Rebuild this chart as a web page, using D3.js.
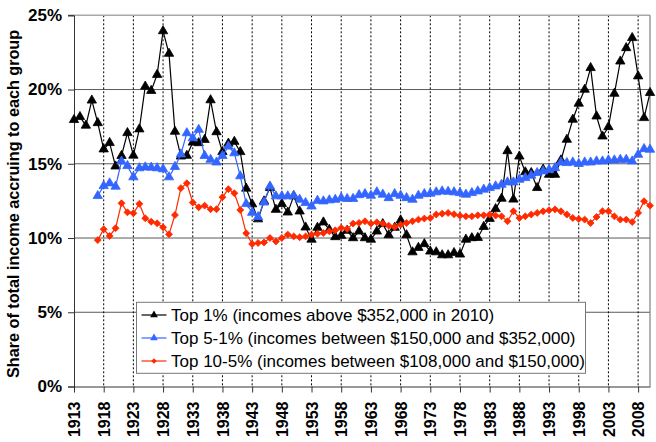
<!DOCTYPE html>
<html>
<head>
<meta charset="utf-8">
<script src="https://cdn.jsdelivr.net/npm/d3@7"></script>
<style>
  body { margin: 0; background: #fff; }
  svg { display: block; font-family: "Liberation Sans", Arial, sans-serif; }
</style>
</head>
<body>
<svg id="chart" width="656" height="442"></svg>
<script>
// ---------- data ----------
const firstYear = 1913;
const splitStart = 1917; // the two lower groups start here

const top1 = [
  17.96, 18.16, 17.58, 19.27, 17.75, 15.98, 16.41, 14.83, 15.54, 17.08,
  15.56, 17.33, 20.21, 19.92, 21.00, 23.94, 22.42, 17.17, 15.50, 15.55,
  16.44, 16.40, 16.62, 19.29, 17.14, 15.80, 16.37, 16.49, 15.80, 13.34,
  12.28, 11.27, 12.48, 13.38, 11.91, 12.30, 11.73, 12.82, 11.80, 10.72,
  9.90, 10.70, 11.06, 10.56, 10.07, 10.16, 10.50, 10.00, 10.45, 10.00,
  9.90, 10.45, 10.95, 10.20, 10.70, 11.20, 10.20, 9.05, 9.35, 9.60,
  9.10, 9.05, 8.85, 8.85, 9.00, 8.90, 9.90, 10.00, 10.02, 10.76,
  11.30, 11.96, 12.66, 15.86, 12.60, 15.50, 14.44, 14.39, 13.38, 14.62,
  14.27, 14.27, 15.24, 16.63, 17.98, 19.06, 20.00, 21.46, 18.20, 16.85,
  17.48, 19.73, 21.90, 22.80, 23.48, 20.90, 18.09, 19.78
];

const top5to1 = [
  12.84, 13.51, 13.69, 13.47, 15.16, 14.86, 14.10, 14.71, 14.77, 14.75,
  14.71, 14.64, 14.10, 14.80, 15.64, 17.07, 16.73, 17.30, 15.54, 15.28,
  15.10, 15.54, 16.17, 15.72, 14.17, 12.30, 11.71, 11.42, 12.40, 13.48,
  12.82, 12.82, 12.82, 12.86, 12.59, 12.37, 12.14, 12.52, 12.48, 12.55,
  12.59, 12.70, 12.64, 12.65, 12.90, 12.97, 12.86, 13.09, 12.93, 12.70,
  12.97, 12.86, 12.70, 12.59, 12.86, 12.97, 13.00, 13.09, 13.15, 13.13,
  13.09, 13.04, 12.93, 13.04, 13.15, 13.27, 13.38, 13.49, 13.60, 13.76,
  13.76, 13.94, 14.05, 14.21, 14.39, 14.50, 14.60, 14.72, 15.10, 15.06,
  15.10, 15.00, 15.10, 15.10, 15.17, 15.17, 15.24, 15.24, 15.28, 15.28,
  15.17, 15.62, 16.00, 15.96
];

const top10to5 = [
  9.86, 10.59, 10.14, 10.66, 12.34, 11.73, 11.67, 12.30, 11.33, 11.10,
  10.99, 10.72, 10.25, 11.55, 13.36, 13.69, 12.39, 12.07, 12.18, 11.94,
  11.94, 12.75, 13.29, 13.02, 11.89, 10.32, 9.60, 9.67, 9.70, 10.00,
  9.77, 10.00, 10.23, 10.11, 10.05, 10.11, 10.23, 10.29, 10.34, 10.45,
  10.52, 10.68, 10.61, 10.97, 11.02, 11.13, 10.97, 11.06, 10.97, 10.83,
  10.74, 10.90, 11.01, 11.13, 11.24, 11.31, 11.35, 11.58, 11.64, 11.69,
  11.60, 11.50, 11.46, 11.46, 11.53, 11.53, 11.58, 11.51, 11.46, 11.13,
  11.80, 11.35, 11.46, 11.58, 11.69, 11.80, 11.87, 11.93, 11.80, 11.58,
  11.35, 11.28, 11.24, 11.01, 11.42, 11.80, 11.80, 11.46, 11.24, 11.24,
  11.08, 11.69, 12.48, 12.18
];

const seriesNames = [
  "Top 1% (incomes above $352,000 in 2010)",
  "Top 5-1% (incomes between $150,000 and $352,000)",
  "Top 10-5% (incomes between $108,000 and $150,000)"
];
const seriesColors = ["#000000", "#3366ff", "#ff2a00"];
const yTicks = [0, 5, 10, 15, 20, 25];
const xTicks = d3.range(1913, 2009, 5);

// ---------- set up ----------
const svg = d3.select("#chart");
const font = "'Liberation Sans', Arial, sans-serif";
const margin = { left: 74, right: 6, top: 15.3, bottom: 55.5 };
const W = 656, H = 442;

const x = d3.scaleLinear()
  .domain([1913, 2010])
  .range([margin.left, W - margin.right]);
const y = d3.scaleLinear()
  .domain([0, 25])
  .range([H - margin.bottom, margin.top]);

const toPoints = (vals, start) => vals.map((v, i) => ({ year: start + i, v: v }));
const series = [
  { name: seriesNames[0], color: seriesColors[0], marker: "tri", pts: toPoints(top1, firstYear) },
  { name: seriesNames[1], color: seriesColors[1], marker: "tri", pts: toPoints(top5to1, splitStart) },
  { name: seriesNames[2], color: seriesColors[2], marker: "dia", pts: toPoints(top10to5, splitStart) }
];

// ---------- grid ----------
// horizontal gridlines
svg.append("g").selectAll("line")
  .data(yTicks.filter(d => d > 0 && d < 25))
  .join("line")
  .attr("x1", x(1913)).attr("x2", x(2010))
  .attr("y1", d => y(d)).attr("y2", d => y(d))
  .attr("stroke", "#5a5a5a").attr("stroke-width", 1);

// vertical dotted lines
svg.append("g").selectAll("line")
  .data(xTicks.filter(d => d > 1913))
  .join("line")
  .attr("x1", d => x(d)).attr("x2", d => x(d))
  .attr("y1", y(25)).attr("y2", y(0))
  .attr("stroke", "#000").attr("stroke-width", 1)
  .attr("stroke-dasharray", "2,2");

// top and right frame
svg.append("line")
  .attr("x1", x(1913) - 6).attr("x2", x(2010))
  .attr("y1", y(25)).attr("y2", y(25))
  .attr("stroke", "#a8a8a8").attr("stroke-width", 1.6);
svg.append("line")
  .attr("x1", x(2010)).attr("x2", x(2010))
  .attr("y1", y(25)).attr("y2", y(0))
  .attr("stroke", "#808080").attr("stroke-width", 1.2);

// ---------- axes ----------
const yAxis = svg.append("g")
  .attr("transform", `translate(${x(1913)},0)`)
  .call(d3.axisLeft(y).tickValues(yTicks).tickFormat(d => d + "%").tickSize(6).tickPadding(6));
yAxis.select(".domain").attr("stroke", "#333");
yAxis.selectAll(".tick line").attr("stroke", "#333");
yAxis.selectAll("text")
  .attr("font-size", 17).attr("font-weight", "bold").attr("fill", "#000")
  .attr("font-family", font);

const xAxis = svg.append("g")
  .attr("transform", `translate(0,${y(0)})`)
  .call(d3.axisBottom(x).tickValues(xTicks).tickFormat(d3.format("d")).tickSize(6).tickSizeOuter(0));
xAxis.select(".domain").attr("stroke", "#333");
xAxis.selectAll(".tick line").attr("stroke", "#333");
xAxis.selectAll("text")
  .attr("font-size", 16).attr("font-weight", "bold").attr("fill", "#000")
  .attr("font-family", font)
  .attr("transform", "rotate(-90)")
  .attr("text-anchor", "end")
  .attr("x", -15).attr("y", 0).attr("dy", "0.35em");

// y title
svg.append("text")
  .attr("transform", `translate(13,${(y(0) + y(25)) / 2 + 3}) rotate(-90)`)
  .attr("text-anchor", "middle")
  .attr("dy", "0.35em")
  .attr("font-size", 16.2).attr("font-weight", "bold")
  .attr("font-family", font)
  .text("Share of total income accruing to each group");

// ---------- series ----------
const line = d3.line().x(d => x(d.year)).y(d => y(d.v));
const triPath = d3.symbol(d3.symbolTriangle, 38)();
const diaPath = d3.symbol(d3.symbolSquare, 24)();

series.forEach(s => {
  const g = svg.append("g");
  g.append("path")
    .datum(s.pts)
    .attr("d", line)
    .attr("fill", "none")
    .attr("stroke", s.color)
    .attr("stroke-width", 1.2);
  g.selectAll("path.m")
    .data(s.pts)
    .join("path")
    .attr("class", "m")
    .attr("d", s.marker === "tri" ? triPath : diaPath)
    .attr("transform", d => `translate(${x(d.year)},${y(d.v)})` + (s.marker === "dia" ? " rotate(45)" : ""))
    .attr("fill", s.color)
    .attr("stroke", s.color)
    .attr("stroke-width", 0.8);
});

// ---------- legend ----------
const legend = svg.append("g").attr("transform", "translate(136.5,302.3)");
legend.append("rect")
  .attr("width", 449).attr("height", 71)
  .attr("fill", "#fff").attr("stroke", "#777").attr("stroke-width", 1);
series.forEach((s, i) => {
  const row = legend.append("g").attr("transform", `translate(0,${12.7 + i * 23})`);
  row.append("line")
    .attr("x1", 5).attr("x2", 30).attr("y1", 0).attr("y2", 0)
    .attr("stroke", s.color).attr("stroke-width", 1.2);
  row.append("path")
    .attr("d", s.marker === "tri" ? d3.symbol(d3.symbolTriangle, 26)() : d3.symbol(d3.symbolSquare, 16)())
    .attr("transform", `translate(17.5,0)` + (s.marker === "dia" ? " rotate(45)" : ""))
    .attr("fill", s.color);
  row.append("text")
    .attr("x", 34.5).attr("y", 0).attr("dy", "0.35em")
    .attr("font-size", 17)
    .attr("font-family", font)
    .text(s.name);
});
</script>
</body>
</html>
